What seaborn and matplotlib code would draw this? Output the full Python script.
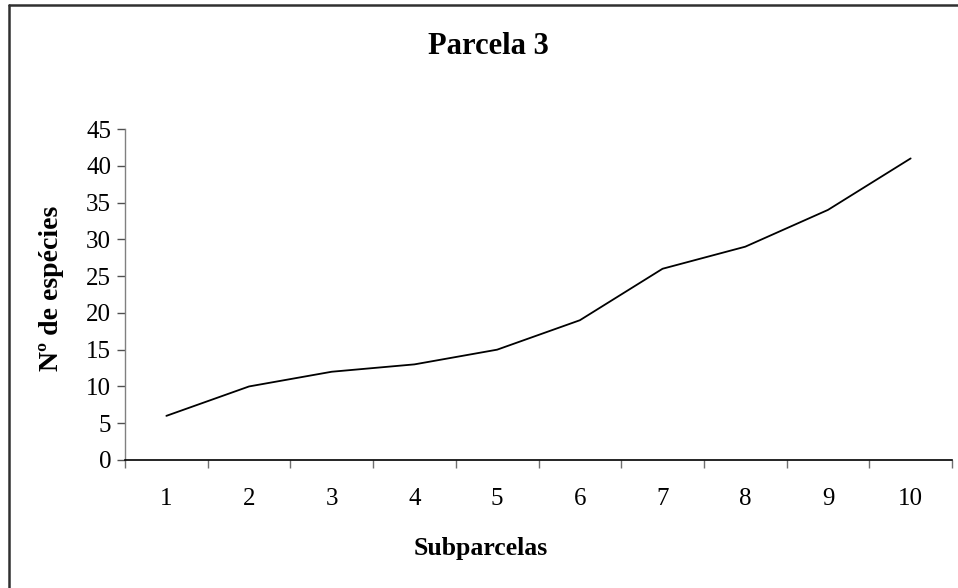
import matplotlib
matplotlib.use("Agg")
import matplotlib.pyplot as plt
from matplotlib.lines import Line2D
from matplotlib.ticker import FixedLocator, NullFormatter
import seaborn as sns
import pandas as pd

subparcelas = ["1", "2", "3", "4", "5", "6", "7", "8", "9", "10"]
especies = [6, 10, 12, 13, 15, 19, 26, 29, 34, 41]
y_ticks = [0, 5, 10, 15, 20, 25, 30, 35, 40, 45]

sns.set_theme(style="white")
plt.rcParams['font.family'] = ['Liberation Serif', 'DejaVu Serif']
plt.rcParams['text.color'] = 'black'
plt.rcParams['axes.labelcolor'] = 'black'
plt.rcParams['xtick.color'] = 'black'
plt.rcParams['ytick.color'] = 'black'

df = pd.DataFrame({"Subparcelas": subparcelas, "Especies": especies})

W, H = 958, 588
fig = plt.figure(figsize=(W / 100, H / 100), dpi=100)
ax = fig.add_axes([125 / W, (H - 460) / H, 827 / W, 331 / H])

sns.lineplot(data=df, x="Subparcelas", y="Especies", ax=ax, color="black",
             linewidth=1.3, sort=False)

n = len(subparcelas)
ax.set_xlim(-0.5, n - 0.5)
ax.set_ylim(0, 45)
ax.set_yticks(y_ticks)
ax.set_yticklabels([str(v) for v in y_ticks], fontsize=18)

# major ticks between categories, labels on minor ticks
ax.xaxis.set_major_locator(FixedLocator([i - 0.5 for i in range(n + 1)]))
ax.xaxis.set_major_formatter(NullFormatter())
ax.xaxis.set_minor_locator(FixedLocator(list(range(n))))
ax.set_xticklabels(subparcelas, minor=True, fontsize=18)
ax.tick_params(axis="x", which="major", direction="out", length=6, width=1,
               color="#707070", bottom=True)
ax.tick_params(axis="x", which="minor", length=0, pad=20, bottom=True,
               labelcolor="black")
ax.tick_params(axis="y", direction="out", length=6, width=1, color="#505050",
               pad=4, left=True, labelcolor="black")

for s in ["top", "right"]:
    ax.spines[s].set_visible(False)
ax.spines["left"].set_color("#808080")
ax.spines["left"].set_linewidth(1.0)
ax.spines["bottom"].set_color("black")
ax.spines["bottom"].set_linewidth(1.2)

ax.set_xlabel("Subparcelas", fontsize=18.5, fontweight="bold", color="black")
ax.xaxis.set_label_coords((481 - 125) / 827, (460 - 548) / 331)
ax.xaxis.label.set_verticalalignment("center")
ax.set_ylabel("Nº de espécies", fontsize=20, fontweight="bold", color="black")
ax.yaxis.set_label_coords((52 - 125) / 827, (460 - 288) / 331)
ax.yaxis.label.set_verticalalignment("center")

fig.text(488 / W, 1 - 46 / H, "Parcela 3", ha="center", va="center",
         fontsize=22, fontweight="bold", color="black")

# chart area border (left and top visible)
fig.add_artist(Line2D([9 / W, 9 / W], [0, 1 - 5 / H], color="#303030", lw=1.8,
                      transform=fig.transFigure))
fig.add_artist(Line2D([9 / W, 1], [1 - 5 / H, 1 - 5 / H], color="#303030", lw=1.8,
                      transform=fig.transFigure))

fig.savefig("out.png", dpi=100)
